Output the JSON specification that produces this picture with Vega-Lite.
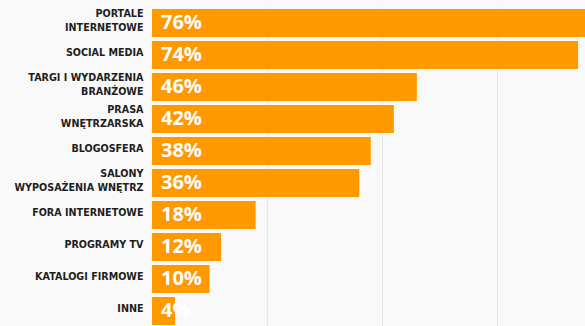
{
  "$schema": "https://vega.github.io/schema/vega-lite/v6.json",
  "width": 433,
  "height": 320,
  "autosize": {"type": "none"},
  "padding": {"left": 152, "top": 7, "right": 0, "bottom": 0},
  "background": "#f9f9f9",
  "config": {"view": {"stroke": null}},
  "data": {
    "values": [
      {"label": "PORTALE|INTERNETOWE", "value": 76, "pct": "76%"},
      {"label": "SOCIAL MEDIA", "value": 74, "pct": "74%"},
      {"label": "TARGI I WYDARZENIA|BRANŻOWE", "value": 46, "pct": "46%"},
      {"label": "PRASA|WNĘTRZARSKA", "value": 42, "pct": "42%"},
      {"label": "BLOGOSFERA", "value": 38, "pct": "38%"},
      {"label": "SALONY|WYPOSAŻENIA WNĘTRZ", "value": 36, "pct": "36%"},
      {"label": "FORA INTERNETOWE", "value": 18, "pct": "18%"},
      {"label": "PROGRAMY TV", "value": 12, "pct": "12%"},
      {"label": "KATALOGI FIRMOWE", "value": 10, "pct": "10%"},
      {"label": "INNE", "value": 4, "pct": "4%"}
    ]
  },
  "encoding": {
    "y": {
      "field": "label",
      "type": "nominal",
      "sort": null,
      "scale": {"paddingInner": 0.125, "paddingOuter": 0.0625},
      "axis": {
        "title": null,
        "ticks": false,
        "domain": false,
        "grid": false,
        "labelPadding": 9,
        "labelFont": "DejaVu Sans",
        "labelFontWeight": "bold",
        "labelFontSize": 9.6,
        "labelColor": "#1e1e1e",
        "labelLineHeight": 14,
        "labelBaseline": "middle",
        "labelExpr": "split(datum.value, '|')",
        "labelOffset": {
          "condition": {"test": "indexof(datum.value, '|') >= 0", "value": -9.5},
          "value": -2.5
        }
      }
    }
  },
  "layer": [
    {
      "mark": {"type": "bar", "color": "#ff9900", "clip": true},
      "encoding": {
        "x": {
          "field": "value",
          "type": "quantitative",
          "scale": {"domain": [0, 75.2], "nice": false},
          "axis": {
            "title": null,
            "grid": true,
            "gridColor": "#e6e6e6",
            "values": [20, 40, 60],
            "labels": false,
            "ticks": false,
            "domain": false
          }
        }
      }
    },
    {
      "mark": {
        "type": "text",
        "align": "left",
        "baseline": "middle",
        "dx": 9,
        "dy": 0,
        "color": "white",
        "font": "Open Sans",
        "fontWeight": "bold",
        "fontSize": 20
      },
      "encoding": {
        "x": {"datum": 0},
        "text": {"field": "pct"}
      }
    }
  ]
}
